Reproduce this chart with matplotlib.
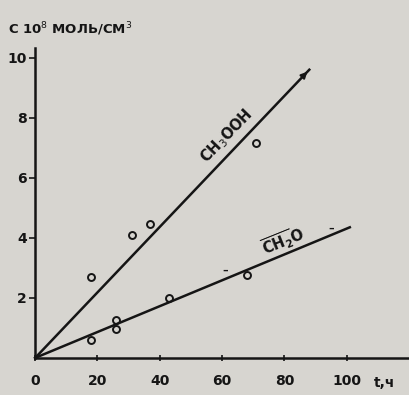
import matplotlib
matplotlib.use("Agg")
import matplotlib.pyplot as plt

# Data
x_ch3ooh = [18, 31, 37, 71]
y_ch3ooh = [2.7, 4.1, 4.45, 7.15]
x_ch2o = [18, 26, 26, 43, 68]
y_ch2o = [0.6, 1.25, 0.95, 2.0, 2.75]
line_ch3ooh_x = [0, 88]
line_ch3ooh_y = [0, 9.6]
line_ch2o_x = [0, 101]
line_ch2o_y = [0, 4.35]
x_ticks = [0, 20, 40, 60, 80, 100]
y_ticks = [2, 4, 6, 8, 10]

bg = "#d7d5d0"
ink = "#151515"

fig = plt.figure(figsize=(4.09, 3.95), dpi=100, facecolor=bg)
ax = fig.add_axes([0.086, 0.094, 0.914, 0.785], facecolor=bg)
ax.set_xlim(0, 120)
ax.set_ylim(0, 10.33)

for s in ["top", "right"]:
    ax.spines[s].set_visible(False)
for s in ["left", "bottom"]:
    ax.spines[s].set_color(ink)
    ax.spines[s].set_linewidth(1.8)

ax.set_xticks(x_ticks)
ax.set_xticklabels([str(v) for v in x_ticks])
ax.set_yticks(y_ticks)
ax.set_yticklabels([str(v) for v in y_ticks])
ax.tick_params(axis="x", direction="inout", length=5, width=1.2, colors=ink,
               pad=9, labelsize=10)
ax.tick_params(axis="y", direction="out", length=4, width=1.2, colors=ink,
               pad=2, labelsize=10)
for lab in ax.get_xticklabels() + ax.get_yticklabels():
    lab.set_fontweight("bold")

# Fitted lines
ax.plot(line_ch3ooh_x, line_ch3ooh_y, color=ink, lw=1.8, clip_on=False)
ax.annotate("", xy=(line_ch3ooh_x[1], line_ch3ooh_y[1]),
            xytext=(line_ch3ooh_x[1] - 2.5, line_ch3ooh_y[1] - 0.27),
            arrowprops=dict(arrowstyle="-|>", color=ink, lw=1.5,
                            mutation_scale=9))
ax.plot(line_ch2o_x, line_ch2o_y, color=ink, lw=1.8, clip_on=False)

# Points
ax.plot(x_ch3ooh, y_ch3ooh, "o", mfc="none", mec=ink, mew=1.4, ms=5)
ax.plot(x_ch2o, y_ch2o, "o", mfc="none", mec=ink, mew=1.4, ms=5)

# Labels on lines
ax.text(61.5, 7.4, r"CH$_3$OOH", rotation=46, ha="center", va="center",
        fontsize=10.5, fontweight="bold", color=ink)
ax.text(79.5, 3.9, r"$\overline{\mathbf{CH_2}}\mathbf{O}$", rotation=22,
        ha="center", va="center", fontsize=10.5, color=ink)

# small scan marks
ax.text(61, 2.9, "–", fontsize=8, fontweight="bold", color=ink,
        ha="center", va="center")
ax.text(95, 4.3, "–", fontsize=8, fontweight="bold", color=ink,
        ha="center", va="center")

# Axis titles
fig.text(0.02, 0.925, r"C 10$^8$ МОЛЬ/СМ$^3$", fontsize=9.5, fontweight="bold",
         color=ink, ha="left", va="center")
fig.text(0.915, 0.03, "t,ч", fontsize=10, fontweight="bold", color=ink,
         ha="left", va="center")

fig.savefig("out.png", dpi=100, facecolor=bg)
